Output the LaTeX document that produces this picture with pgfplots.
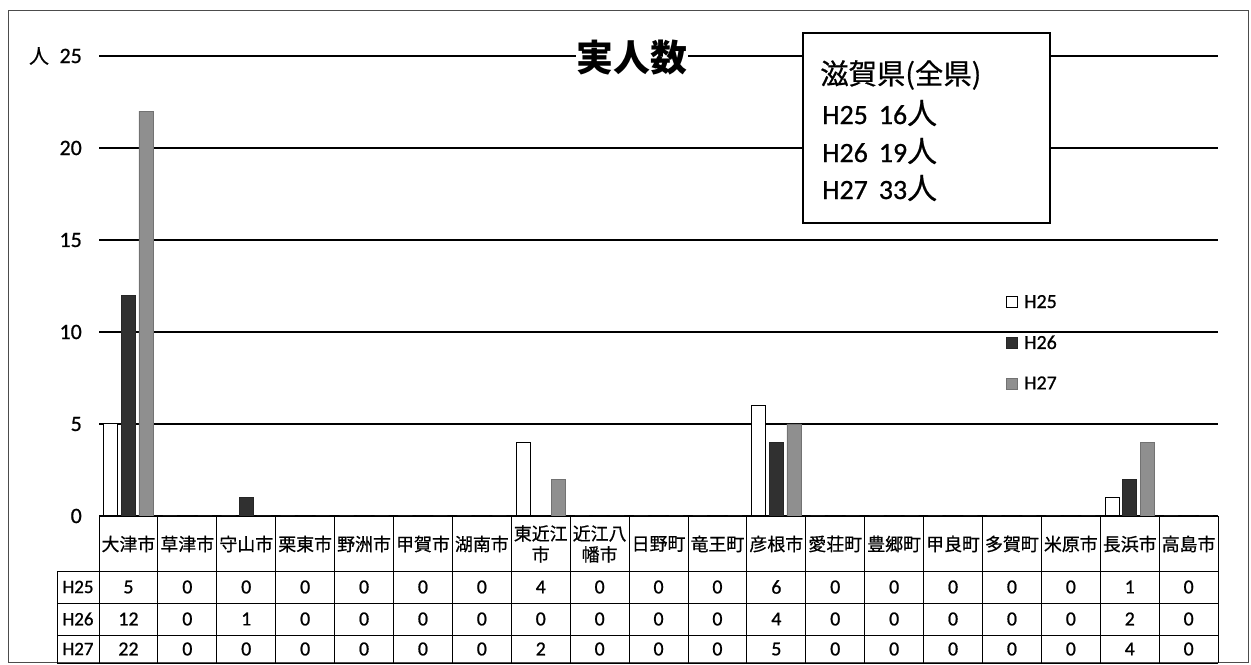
\documentclass[border=0pt]{standalone}
\usepackage{fontspec}
\setmainfont{Carlito}[FakeBold=0.8]
\newfontfamily\cjk{Noto Sans CJK JP}[FakeBold=0.6]
\newfontfamily\cjkt{Noto Sans CJK JP}
\usepackage{pgfplots}
\usepackage{pgfplotstable}
\pgfplotsset{compat=1.18}
\definecolor{hdark}{HTML}{303030}
\definecolor{hgray}{HTML}{8F8F8F}
\pgfplotstableread{
x h25 h26 h27
0 5 12 22
1 0 0 0
2 0 1 0
3 0 0 0
4 0 0 0
5 0 0 0
6 0 0 0
7 4 0 2
8 0 0 0
9 0 0 0
10 0 0 0
11 6 4 5
12 0 0 0
13 0 0 0
14 0 0 0
15 0 0 0
16 0 0 0
17 1 2 4
18 0 0 0
}\datatable
\begin{document}
\begin{tikzpicture}[x=1bp,y=1bp]
\useasboundingbox (0,0) rectangle (1251,665);
\draw[line width=1bp, black!70] (8,2) rectangle (1248,654);
\begin{axis}[
  at={(99bp,149bp)}, anchor=south west,
  scale only axis, width=1119bp, height=460bp,
  xmin=-0.5, xmax=18.5, ymin=0, ymax=25,
  ybar=3.5bp, bar width=14bp,
  xtick=\empty, ytick={0,5,...,25},
  axis line style={draw=none}, tick style={draw=none},
  ymajorgrids, major grid style={black, line width=1.3bp},
  yticklabel style={font=\fontsize{22}{22}\selectfont, anchor=east, inner sep=0pt, xshift=-17bp},
  /pgf/number format/assume math mode=true,
  legend style={at={(0.8105,0.485)}, anchor=north west, draw=none, fill=none,
    font=\fontsize{20}{20}\selectfont, row sep=22bp, column sep=4bp, inner sep=0pt,
    nodes={inner sep=2bp}},
  legend cell align=left,
  legend image code/.code={\draw[#1] (0bp,-5.5bp) rectangle (11bp,5.5bp);},
]
\addplot[draw=black, fill=white, line width=1bp] table[x=x,y=h25]{\datatable};
\addplot[draw=black!85, fill=hdark] table[x=x,y=h26]{\datatable};
\addplot[draw=hgray!80!black, fill=hgray] table[x=x,y=h27]{\datatable};
\legend{H25,H26,H27}
\end{axis}
% unit label and title
\node[font=\cjk\fontsize{20}{20}\selectfont] at (39,609) {人};
\node[font=\cjkt\bfseries\fontsize{37}{37}\selectfont, fill=white, inner sep=1bp] at (632,607) {実人数};
% summary box
\draw[line width=1.5bp, fill=white] (803,442) rectangle (1050,632);
\node[anchor=west, font=\cjk\fontsize{28.5}{28.5}\selectfont, inner sep=0pt] at (820,590) {滋賀県(全県)};
\node[anchor=west, font=\fontsize{28}{28}\selectfont, inner sep=0pt] at (822,552) {H25\hspace{11bp}16{\cjk\fontsize{30}{30}\selectfont 人}};
\node[anchor=west, font=\fontsize{28}{28}\selectfont, inner sep=0pt] at (822,514) {H26\hspace{11bp}19{\cjk\fontsize{30}{30}\selectfont 人}};
\node[anchor=west, font=\fontsize{28}{28}\selectfont, inner sep=0pt] at (822,477) {H27\hspace{11bp}33{\cjk\fontsize{30}{30}\selectfont 人}};
% data table
\begin{scope}[line width=0.9bp]
\foreach \k in {0,...,19} {
  \pgfmathsetmacro\vx{99+\k*58.9}
  \draw (\vx,2) -- (\vx,149);
}
\draw (99,149) -- (1218,149);
\draw (57,94) -- (1218,94);
\draw (57,62) -- (1218,62);
\draw (57,30) -- (1218,30);
\draw (57,2) -- (1218,2);
\draw (57,2) -- (57,94);
\end{scope}
\node[font=\fontsize{19}{19}\selectfont] at (78,78) {H25};
\node[font=\fontsize{19}{19}\selectfont] at (78,46) {H26};
\node[font=\fontsize{19}{19}\selectfont] at (78,16) {H27};
\foreach \n [count=\i from 0] in {大津市,草津市,守山市,栗東市,野洲市,甲賀市,湖南市,{東近江\\市},{近江八\\幡市},日野町,竜王町,彦根市,愛荘町,豊郷町,甲良町,多賀町,米原市,長浜市,高島市} {
  \pgfmathsetmacro\cx{99+(\i+0.5)*58.9}
  \node[font=\cjk\fontsize{18}{21}\selectfont, align=center, inner sep=0pt] at (\cx,121) {\n};
  \pgfplotstablegetelem{\i}{h25}\of\datatable
  \node[font=\fontsize{20}{20}\selectfont] at (\cx,78) {\pgfplotsretval};
  \pgfplotstablegetelem{\i}{h26}\of\datatable
  \node[font=\fontsize{20}{20}\selectfont] at (\cx,46) {\pgfplotsretval};
  \pgfplotstablegetelem{\i}{h27}\of\datatable
  \node[font=\fontsize{20}{20}\selectfont] at (\cx,16) {\pgfplotsretval};
}
\end{tikzpicture}
\end{document}
